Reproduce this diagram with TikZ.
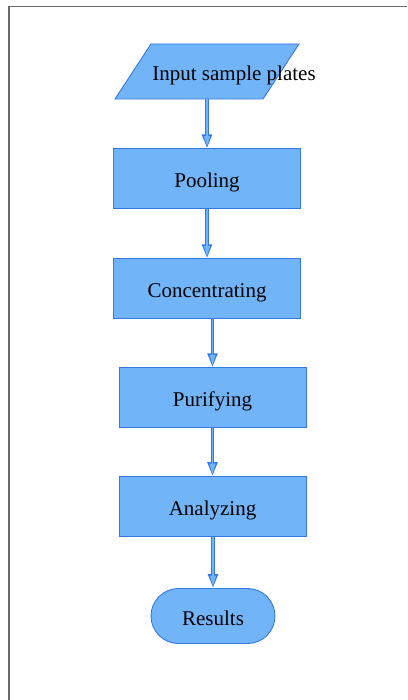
\documentclass[tikz,border=0pt]{standalone}
\usepackage{fontspec}
\setmainfont{Liberation Serif}
\usetikzlibrary{positioning,shapes.geometric,shapes.misc,arrows.meta}

\definecolor{boxblue}{RGB}{114,180,248}
\definecolor{lineblue}{RGB}{52,120,228}
\definecolor{framegray}{RGB}{105,105,105}

\tikzset{
  caption/.style={font=\fontsize{21}{25}\selectfont, text height=18pt, text depth=0pt},
  block/.style={rectangle, draw=lineblue, fill=boxblue, line width=0.9pt,
    minimum width=187pt, minimum height=60pt, inner sep=0pt, caption},
  io/.style={block, trapezium, trapezium left angle=56.8, trapezium right angle=123.2,
    minimum width=0pt, minimum height=0pt, inner xsep=56pt, inner ysep=27.5pt,
    text height=0pt, text depth=0pt},
  terminal/.style={block, rounded rectangle, minimum width=124pt, minimum height=55pt},
  flow/.style={draw=lineblue, line width=3.6pt, -{Triangle[length=14pt,width=9.5pt]},
    postaction={draw=boxblue, line width=1.5pt, shorten >=2pt,
      -{Triangle[length=10.5pt,width=6pt]}}}
}

\begin{document}
\begin{tikzpicture}[node distance=49pt]
  \useasboundingbox (0,0) rectangle (407pt,-700pt);
  \draw[framegray, line width=1.2pt] (9pt,-700pt) |- (407pt,-6.5pt);

  % Nodes

  \node[io, label={[caption, xshift=27pt]center:Input sample plates}]
                                  (input)   at (207pt,-71.5pt) {}; %
  \node[block, below=of input]    (pool)    {Pooling}; %
  \node[block, below=of pool]     (conc)    {Concentrating}; %
  \node[block, below=48pt of conc, xshift=5.5pt] (purify)  {Purifying}; %
  \node[block, below=48pt of purify] (analyze) {Analyzing}; %
  \node[terminal, below=51pt of analyze, xshift=0.5pt] (results) {Results}; %

  % Edges
  \draw[flow] (input.south -| pool.north) -- (pool.north); %
  \draw[flow] (pool) -- (conc); %
  \draw[flow] (conc.south -| purify.north) -- (purify.north); %
  \draw[flow] (purify) -- (analyze); %
  \draw[flow] (analyze.south -| results.north) -- (results.north); %
\end{tikzpicture}
\end{document}
